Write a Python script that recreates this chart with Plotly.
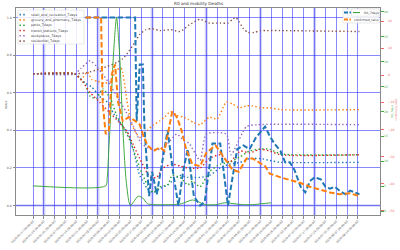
import plotly.graph_objects as go
import pandas as pd

# ---------------- data ----------------
START = pd.Timestamp('2020-01-17')
tick_dates = pd.date_range(START, periods=31, freq='7D')
tick_text = [d.strftime('%Y-%m-%d %H:%M:%S') for d in tick_dates]
band_idx = [1, 6, 11, 16, 21, 26]

mob_names = ['retail_and_recreation_7days', 'grocery_and_pharmacy_7days', 'parks_7days',
             'transit_stations_7days', 'workplaces_7days', 'residential_7days']
mob_colors = ['#1f77b4', '#ff7f0e', '#2ca02c', '#d62728', '#9467bd', '#8c564b']

# day offsets from 2020-01-17, values (normalised)
retail_days = [0, 27, 30, 34, 38, 43, 48, 52, 56, 61, 65, 69, 74, 78, 82, 87, 90, 95, 100, 108, 114, 121, 127, 134, 140, 147, 153, 160, 211]
retail_vals = [0.70, 0.70, 0.68, 0.65, 0.63, 0.58, 0.55, 0.49, 0.44, 0.39, 0.29, 0.16, 0.09, 0.07, 0.09, 0.11, 0.13, 0.16, 0.15, 0.15, 0.16, 0.20, 0.22, 0.23, 0.25, 0.25, 0.24, 0.23, 0.23]

grocery_days = [0, 27, 31, 35, 38, 42, 46, 50, 54, 57, 60, 63, 67, 70, 74, 78, 82, 85, 89, 93, 97, 100, 104, 108, 114, 119, 125, 129, 133, 138, 142, 147, 153, 160, 211]
grocery_vals = [0.70, 0.70, 0.67, 0.71, 0.67, 0.66, 0.65, 0.66, 0.72, 0.73, 0.60, 0.45, 0.38, 0.36, 0.40, 0.43, 0.45, 0.47, 0.50, 0.48, 0.47, 0.46, 0.44, 0.43, 0.47, 0.46, 0.55, 0.54, 0.52, 0.53, 0.53, 0.52, 0.52, 0.51, 0.51]

parks_days = [0, 27, 31, 34, 37, 41, 45, 50, 54, 58, 63, 69, 74, 78, 82, 87, 90, 95, 100, 103, 108, 114, 121, 127, 134, 140, 147, 153, 160, 211]
parks_vals = [0.70, 0.70, 0.67, 0.64, 0.58, 0.57, 0.62, 0.57, 0.48, 0.42, 0.34, 0.20, 0.11, 0.07, 0.10, 0.11, 0.16, 0.15, 0.11, 0.13, 0.10, 0.18, 0.22, 0.23, 0.26, 0.29, 0.30, 0.30, 0.275, 0.27]

transit_days = [0, 27, 32, 37, 43, 50, 56, 61, 65, 69, 74, 76, 80, 84, 90, 95, 100, 108, 114, 121, 127, 134, 140, 147, 153, 160, 211]
transit_vals = [0.70, 0.70, 0.66, 0.60, 0.55, 0.49, 0.44, 0.39, 0.32, 0.25, 0.17, 0.15, 0.15, 0.20, 0.22, 0.21, 0.20, 0.20, 0.25, 0.27, 0.23, 0.29, 0.28, 0.30, 0.29, 0.27, 0.27]

work_days = [0, 27, 31, 35, 37, 41, 45, 50, 55, 60, 65, 70, 76, 82, 87, 93, 97, 101, 108, 112, 125, 128, 138, 145, 211]
work_vals = [0.70, 0.70, 0.73, 0.76, 0.77, 0.74, 0.70, 0.64, 0.57, 0.50, 0.42, 0.33, 0.30, 0.30, 0.33, 0.38, 0.35, 0.33, 0.24, 0.38, 0.38, 0.27, 0.42, 0.43, 0.43]

resid_days = [0, 27, 34, 41, 48, 54, 58, 62, 66, 69, 73, 77, 82, 89, 95, 101, 108, 114, 121, 126, 129, 131, 133, 136, 139, 143, 147, 151, 160, 211]
resid_vals = [0.70, 0.70, 0.705, 0.72, 0.74, 0.76, 0.78, 0.82, 0.87, 0.91, 0.935, 0.94, 0.93, 0.935, 0.925, 0.96, 0.99, 0.97, 0.97, 0.97, 0.99, 1.0, 0.98, 0.94, 0.92, 0.92, 0.93, 0.93, 0.93, 0.925]

mob_days = [retail_days, grocery_days, parks_days, transit_days, work_days, resid_days]
mob_vals = [retail_vals, grocery_vals, parks_vals, transit_vals, work_vals, resid_vals]

deaths_days = [34, 66, 67, 69, 71, 72, 75, 77, 80, 84, 87, 91, 94, 97, 100, 104, 108, 111, 116, 121, 126, 132, 136, 140, 144, 147, 150, 153, 156, 160, 163, 166, 169, 173, 176, 179, 182, 186, 189, 192, 195, 198, 202, 205, 208, 211]
deaths_vals = [1.0, 1.0, 0.45, 0.75, 0.75, 0.42, 0.05, 0.18, 0.06, 0.25, 0.40, 0.15, 0.0, 0.18, 0.30, 0.05, 0.0, 0.02, 0.33, 0.33, 0.0, 0.30, 0.32, 0.30, 0.36, 0.39, 0.42, 0.37, 0.33, 0.29, 0.23, 0.23, 0.19, 0.10, 0.07, 0.13, 0.15, 0.14, 0.10, 0.09, 0.10, 0.08, 0.06, 0.08, 0.07, 0.06]

conf_days = [34, 44, 45, 47, 49, 51, 53, 55, 58, 62, 66, 69, 71, 74, 78, 82, 85, 88, 90, 93, 96, 99, 103, 108, 112, 118, 124, 129, 133, 138, 142, 150, 153, 160, 173, 179, 192, 198, 205, 211]
conf_vals = [1.0, 1.0, 0.55, 0.38, 0.40, 0.70, 0.75, 0.55, 0.45, 0.47, 0.45, 0.43, 0.38, 0.32, 0.29, 0.31, 0.29, 0.42, 0.50, 0.47, 0.40, 0.30, 0.22, 0.21, 0.28, 0.32, 0.25, 0.19, 0.18, 0.25, 0.25, 0.21, 0.17, 0.15, 0.12, 0.10, 0.07, 0.06, 0.065, 0.05]

r0_days = [0, 47, 48, 49, 50, 52, 54, 56, 58, 60, 62, 63, 65, 68, 71, 74, 78, 90, 96, 103, 107, 111, 118, 124, 130, 136, 142, 148, 154]
r0_vals = [0.105, 0.105, 0.15, 0.30, 0.45, 0.80, 1.0, 0.80, 0.42, 0.15, 0.02, 0.0, 0.02, 0.05, 0.04, 0.01, 0.005, 0.005, 0.01, 0.03, 0.02, 0.005, 0.005, 0.015, 0.01, 0.005, 0.005, 0.01, 0.015]

green_ticks = [0, 5, 10, 15, 20, 25, 30, 35, 40]
red_ticks = [-50, -40, -30, -20, -10, 0, 10, 20]

# ---------------- figure ----------------
FONT = 'DejaVu Sans'
L, R, T, B = 16, 20, 8, 35
W, H = 400, 250
PW, PH = W - L - R, H - T - B

def px(x):
    return (x - L) / PW

def py(y):
    return (H - B - y) / PH

def to_dates(days):
    return [START + pd.Timedelta(days=d) for d in days]

fig = go.Figure()
DOT = '1.4px,2.4px'
DASH = '5.5px,2.5px'

for name, col, d, v in zip(mob_names, mob_colors, mob_days, mob_vals):
    fig.add_trace(go.Scatter(x=to_dates(d), y=v, mode='lines', name=name, showlegend=False,
                             line=dict(color=col, width=1.4, dash=DOT, shape='spline', smoothing=0.6)))

fig.add_trace(go.Scatter(x=to_dates(r0_days), y=r0_vals, mode='lines', showlegend=False,
                         line=dict(color='#2ca02c', width=0.9, shape='spline', smoothing=0.7)))
fig.add_trace(go.Scatter(x=to_dates(deaths_days), y=deaths_vals, mode='lines', showlegend=False,
                         line=dict(color='#1f77b4', width=2.0, dash=DASH)))
fig.add_trace(go.Scatter(x=to_dates(conf_days), y=conf_vals, mode='lines', showlegend=False,
                         line=dict(color='#ff7f0e', width=2.0, dash=DASH)))
# empty traces to materialise the twin axes
fig.add_trace(go.Scatter(x=[], y=[], yaxis='y2', showlegend=False))
fig.add_trace(go.Scatter(x=[], y=[], yaxis='y3', showlegend=False))

GRID = 'rgba(40,40,255,0.55)'
SPINE = '#8a8a8a'
TICKF = dict(family=FONT, size=3.2, color='#555555')

fig.update_layout(
    width=W, height=H, margin=dict(l=L, r=R, t=T, b=B, pad=0),
    paper_bgcolor='white', plot_bgcolor='white', showlegend=False,
    xaxis=dict(type='date', range=[START - pd.Timedelta(days=11), START + pd.Timedelta(days=224.3)],
               tickvals=list(tick_dates), ticktext=tick_text, tickangle=-45,
               tickfont=dict(family=FONT, size=2.9, color='#555555'),
               showgrid=True, gridcolor=GRID, gridwidth=0.6, zeroline=False,
               showline=True, linecolor=SPINE, linewidth=1, mirror=True,
               ticks='outside', ticklen=2.5, tickcolor=SPINE, automargin=False),
    yaxis=dict(range=[-0.05, 1.05], tickvals=[0, 0.2, 0.4, 0.6, 0.8, 1.0], tickformat='.1f',
               tickfont=TICKF, showgrid=True, gridcolor=GRID, gridwidth=0.6, zeroline=False,
               showline=True, linecolor=SPINE, linewidth=1, mirror=True,
               ticks='outside', ticklen=2.5, tickcolor=SPINE, automargin=False),
    yaxis2=dict(overlaying='y', side='right', anchor='x', range=[-0.8, 40.8], tickvals=green_ticks,
                tickfont=dict(family=FONT, size=3.0, color='#44aa44'), showgrid=False, zeroline=False,
                ticks='outside', ticklen=2.5, tickcolor='#44aa44', showline=False, automargin=False),
    yaxis3=dict(overlaying='y', side='right', anchor='x', range=[-51.5, 24.8], tickvals=red_ticks,
                tickfont=dict(family=FONT, size=3.0, color='#ee6666'), showgrid=False, zeroline=False,
                ticks='outside', ticklen=2.5, tickcolor='#ee6666', showline=False, automargin=False,
                ticklabelstandoff=4),
)

shapes = []
for i in band_idx:
    shapes.append(dict(type='line', xref='x', yref='paper', x0=tick_dates[i], x1=tick_dates[i], y0=0, y1=1,
                       line=dict(color='rgb(208,208,246)', width=3), layer='below'))
shapes.append(dict(type='line', xref='paper', yref='y', x0=0, x1=1, y0=0, y1=0,
                   line=dict(color='rgb(208,208,246)', width=2.5), layer='below'))

annotations = []
def text(x, y, s, size=3.3, color='#333333', xanchor='left', angle=0):
    annotations.append(dict(xref='paper', yref='paper', x=px(x), y=py(y), text=s, showarrow=False,
                            xanchor=xanchor, yanchor='middle', textangle=angle,
                            font=dict(family=FONT, size=size, color=color)))

def handle(x0, x1, y, color, width, dash):
    shapes.append(dict(type='line', xref='paper', yref='paper', x0=px(x0), x1=px(x1), y0=py(y), y1=py(y),
                       line=dict(color=color, width=width, dash=dash), layer='above'))

def box(x0, x1, y0, y1):
    shapes.append(dict(type='rect', xref='paper', yref='paper', x0=px(x0), x1=px(x1), y0=py(y1), y1=py(y0),
                       fillcolor='rgba(255,255,255,0.85)', line=dict(color='rgb(218,218,218)', width=0.6),
                       layer='above'))

# left legend
box(18, 84, 10, 44)
for i, (name, col) in enumerate(zip(mob_names, mob_colors)):
    yy = 14.6 + 5.3 * i
    handle(19.5, 26, yy, col, 1.6, DOT)
    text(28.5, yy, name, color='#444444')

# right legends (two overlapping boxes)
box(343, 379, 9, 23)
handle(344, 351, 12.6, '#1f77b4', 2.0, '4px,1.5px')
handle(344, 351, 19.6, '#ff7f0e', 2.0, '4px,1.5px')
text(352, 19.6, 'confirmed_ratio', size=3.1, color='#444444')
box(351.5, 379, 9, 16.2)
handle(353, 360, 12.6, '#2ca02c', 1.0, 'solid')
text(361.5, 12.6, 'R0_7days', size=3.1, color='#444444')

# titles
text(198, 4, 'R0 and mobility Deaths', size=4.2, color='#333333', xanchor='center')
text(6, 105, 'Value', size=3.0, color='#444444', xanchor='center', angle=-90)
text(395.5, 110, 'confirmed_ratio', size=2.8, color='#ee6666', xanchor='center', angle=-90)
text(391.5, 111, 'R0_7days', size=2.6, color='#44aa44', xanchor='center', angle=-90)

fig.update_layout(shapes=shapes, annotations=annotations)
fig.write_html('out.html')
